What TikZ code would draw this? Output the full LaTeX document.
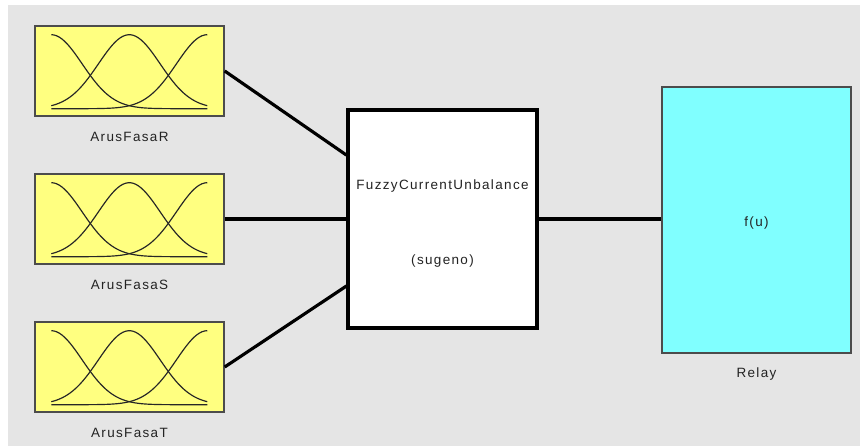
\documentclass[tikz,border=0pt]{standalone}
\usepackage{fontspec}
\setmainfont{Liberation Sans}[LetterSpace=10]
\usetikzlibrary{calc}
\definecolor{bggray}{RGB}{229,229,229}
\definecolor{mfyellow}{RGB}{255,255,128}
\definecolor{relaycyan}{RGB}{128,255,255}
\definecolor{txtgray}{RGB}{35,35,35}

\begin{document}
\begin{tikzpicture}[x=0.03cm,y=-0.03cm,
  every node/.style={font=\fontsize{11.5pt}{13pt}\selectfont,text=txtgray,inner sep=0pt},
  inbox/.style={draw=black!70,line width=1.2pt,fill=mfyellow,minimum width=5.67cm,minimum height=2.7cm},
  fisbox/.style={draw=black,line width=2.6pt,fill=white,minimum width=5.67cm,minimum height=6.54cm},
  outbox/.style={draw=black!70,line width=1.1pt,fill=relaycyan,minimum width=5.67cm,minimum height=7.98cm},
  mf/.style={line width=1pt,black!85},
  wire/.style={line width=2.7pt,black}]

\useasboundingbox (0,0) rectangle (860,446);
\fill[bggray] (8,5) rectangle (860,446);

\node[inbox] (ar) at (129.5,71) {};
\node[inbox] (as) at (129.5,219) {};
\node[inbox] (at) at (129.5,367) {};
\node[fisbox] (fis) at (442.5,219) {};
\node[outbox] (relay) at (756.5,220) {};

% membership functions
\foreach \b in {ar,as,at}{
  \begin{scope}[shift={(\b.south west)}]
    \foreach \c in {0,1,2}
      \draw[mf] plot[domain=0:2,samples=60,smooth] ({17+78*\x},{-8-74*exp(-3.2*(\x-\c)^2)});
  \end{scope}
}

\node (lblR) at (129.5,137) {ArusFasaR};
\node (lblS) at (129.5,285) {ArusFasaS};
\node (lblT) at (129.5,433) {ArusFasaT};
\node (fisname) at (442.5,186) {FuzzyCurrentUnbalance};
\node (fistype) at (442.5,261) {(sugeno)};
\node (fu) at (756.5,223) {f(u)};
\node (lblRelay) at (756.5,374) {Relay};

\draw[wire] (ar.east) -- ($(fis.north west)!0.211!(fis.south west)$);
\draw[wire] (as.east) -- (as.east -| fis.west);
\draw[wire] (at.east) -- ($(fis.north west)!0.803!(fis.south west)$);
\draw[wire] (fis.east) -- (fis.east -| relay.west);
\end{tikzpicture}
\end{document}
